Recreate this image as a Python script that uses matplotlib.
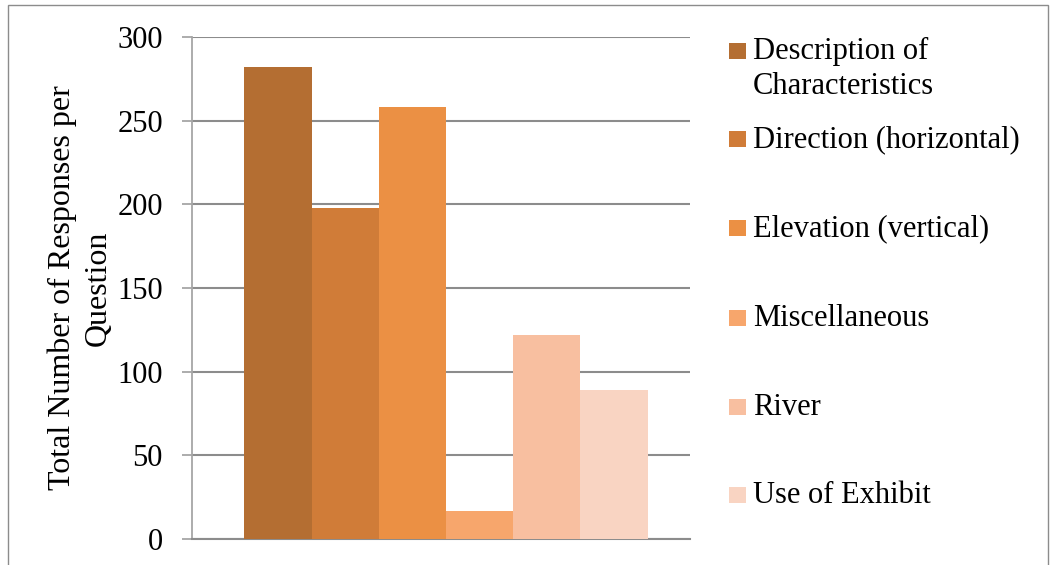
import matplotlib
matplotlib.use("Agg")
import matplotlib.pyplot as plt
import numpy as np
from matplotlib.patches import Rectangle

series = ["Description of\nCharacteristics", "Direction (horizontal)", "Elevation (vertical)",
          "Miscellaneous", "River", "Use of Exhibit"]
values = [282, 198, 258, 17, 122, 89]
colors = ["#B46E32", "#D07C38", "#EB9044", "#F7A66C", "#F8BFA0", "#F9D4C2"]
yticks = [0, 50, 100, 150, 200, 250, 300]

plt.rcParams['font.family'] = ['Liberation Serif', 'DejaVu Serif']

W, H = 1052, 565
fig = plt.figure(figsize=(W / 100, H / 100), dpi=100)
ax = fig.add_axes([192 / W, 1 - 539 / H, (690 - 192) / W, (539 - 37) / H])

n = len(values)
w = 0.135
x0 = -w * (n - 1) / 2
for i, (v, c, s) in enumerate(zip(values, colors, series)):
    ax.bar(x0 + i * w, v, width=w, color=c, label=s, zorder=3)

ax.set_xlim(-0.51, 0.49)
ax.set_ylim(0, 300)
ax.set_yticks(yticks)
ax.set_xticks([])
ax.yaxis.grid(True, color="#8C8C8C", linewidth=1.5, zorder=0)
for sp in ["top", "right"]:
    ax.spines[sp].set_visible(False)
ax.spines["left"].set_color("#A6A6A6")
ax.spines["left"].set_linewidth(1.3)
ax.spines["bottom"].set_color("#8C8C8C")
ax.spines["bottom"].set_linewidth(1.5)
ax.tick_params(axis="y", length=7, width=1.3, color="#A6A6A6", labelsize=22, pad=14)
ax.set_ylabel("Total Number of Responses per\nQuestion", fontsize=23, linespacing=1.3)
ax.yaxis.set_label_coords((113 - 192) / 498, 0.5)

# legend (drawn manually to match layout)
sq = 16
baselines = [59, 147, 236, 326, 415, 503]
for s, c, b in zip(series, colors, baselines):
    fig.patches.append(Rectangle((729 / W, 1 - b / H), 17 / W, sq / H,
                                 transform=fig.transFigure, facecolor=c, edgecolor="none"))
    for k, line in enumerate(s.split("\n")):
        fig.text(753 / W, 1 - (b + 35 * k) / H, line, fontsize=22, va="baseline", ha="left")

fig.patches.append(Rectangle((8 / W, -0.01), (1048 - 8) / W, 1 - 5 / H + 0.01,
                             transform=fig.transFigure, fill=False, edgecolor="#8C8C8C",
                             linewidth=1.0))

fig.savefig("out.png", dpi=100)
